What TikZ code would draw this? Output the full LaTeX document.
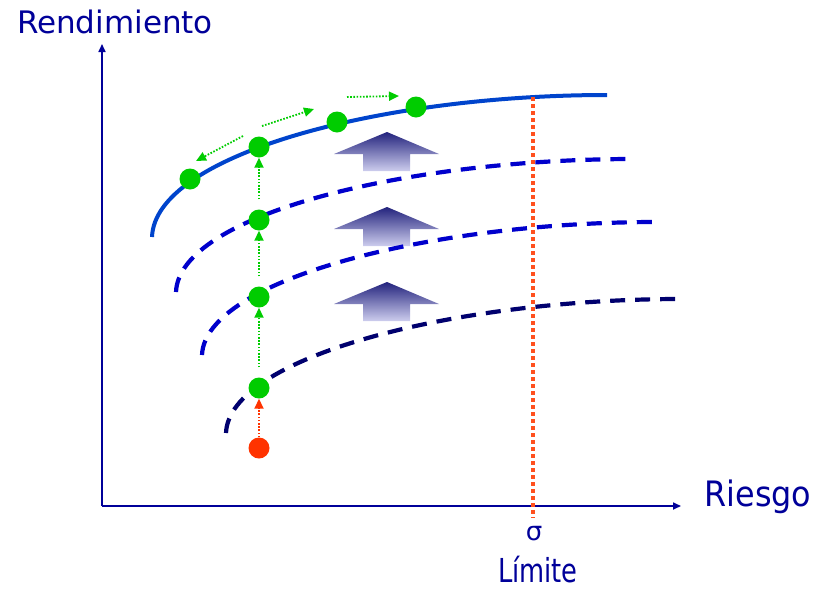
\documentclass[tikz,border=0pt]{standalone}
\usepackage{fontspec}
\setmainfont{DejaVu Sans}
\usetikzlibrary{arrows.meta}
\definecolor{navytxt}{RGB}{0,0,153}
\definecolor{solidblue}{RGB}{0,68,204}
\definecolor{dashblue}{RGB}{0,0,204}
\definecolor{dashnavy}{RGB}{0,0,110}
\definecolor{dotgreen}{RGB}{0,204,0}
\definecolor{dotred}{RGB}{255,51,0}
\definecolor{limitred}{RGB}{255,80,30}
\definecolor{arrtop}{RGB}{35,35,125}
\definecolor{arrbot}{RGB}{205,205,238}
\tikzset{
  axisline/.style={draw=navytxt, line width=1.6pt, -{Triangle[length=8pt,width=7pt]}},
  frontier/.style={line width=4pt},
  dashfront/.style={line width=4.2pt, dash pattern=on 15pt off 10pt},
  gdot/.style={circle, fill=dotgreen, minimum size=21pt, inner sep=0pt},
  rdot/.style={circle, fill=dotred, minimum size=21pt, inner sep=0pt},
  garrow/.style={draw=dotgreen, line width=1.8pt, dash pattern=on 1.6pt off 1.6pt, -{Triangle[length=10pt,width=9pt]}},
  rarrow/.style={draw=dotred, line width=1.8pt, dash pattern=on 1.6pt off 1.6pt, -{Triangle[length=10pt,width=9pt]}},
  lbl/.style={text=navytxt, inner sep=0pt},
}
\begin{document}
\begin{tikzpicture}[x=1pt,y=-1pt]
\useasboundingbox (0,0) rectangle (816,592);
% axes
\coordinate (o) at (102,506);
\coordinate (ytop) at (102,44);
\coordinate (xend) at (681,506);
\draw[axisline] (o) -- (ytop);
\draw[axisline] (o) -- (xend);
\node[lbl, font=\fontsize{31}{36}\selectfont] (ylab) at (115,22) {Rendimiento};
\node[lbl, font=\fontsize{35}{40}\selectfont, xscale=0.91] (xlab) at (758,497) {Riesgo};
% big up arrows
\foreach \y in {132,207,282}{
  \shade[top color=arrtop, bottom color=arrbot]
    (387,\y) -- (439,\y+22) -- (410,\y+22) -- (410,\y+39) -- (363,\y+39) -- (363,\y+22) -- (334,\y+22) -- cycle;
}
% frontiers
\draw[frontier, draw=solidblue] (152,237) .. controls (155,155) and (380,95) .. (607,95);
\draw[dashfront, draw=dashblue] (176,292) .. controls (179,215) and (405,159) .. (634,159);
\draw[dashfront, draw=dashblue] (202,355) .. controls (205,280) and (430,222) .. (657,222);
\draw[dashfront, draw=dashnavy] (226,433) .. controls (229,357) and (454,299) .. (681,299);
% limit line
\coordinate (ltop) at (533,97);
\coordinate (lbot) at (533,518);
\draw[limitred, line width=3.4pt, dash pattern=on 4pt off 3pt] (ltop) -- (lbot);
\node[lbl, font=\fontsize{26}{30}\selectfont] (sig) at (534,534) {σ};
\node[lbl, font=\fontsize{33}{38}\selectfont, xscale=0.78] (lim) at (538,570) {Límite};
% dots
\node[rdot] (r) at (259,448) {};
\node[gdot] (g6) at (259,388) {};
\node[gdot] (g5) at (259,297) {};
\node[gdot] (g4) at (259,220) {};
\node[gdot] (g1) at (190,179) {};
\node[gdot] (g2) at (259,147) {};
\node[gdot] (g3) at (337,122) {};
\node[gdot] (g0) at (416,107) {};
% vertical arrows
\draw[rarrow] (r.north) -- (g6.south);
\draw[garrow, shorten <=10pt] (g6.north) -- (g5.south);
\draw[garrow, shorten <=10pt] (g5.north) -- (g4.south);
\draw[garrow, shorten <=10pt] (g4.north) -- (g2.south);
% arrows along the frontier
\coordinate (a1s) at (243,136);
\coordinate (a1e) at (196,161);
\coordinate (a2s) at (262,126);
\coordinate (a2e) at (314,109);
\coordinate (a3s) at (347,97);
\coordinate (a3e) at (399,96);
\draw[garrow] (a1s) -- (a1e);
\draw[garrow] (a2s) -- (a2e);
\draw[garrow] (a3s) -- (a3e);
\end{tikzpicture}
\end{document}
